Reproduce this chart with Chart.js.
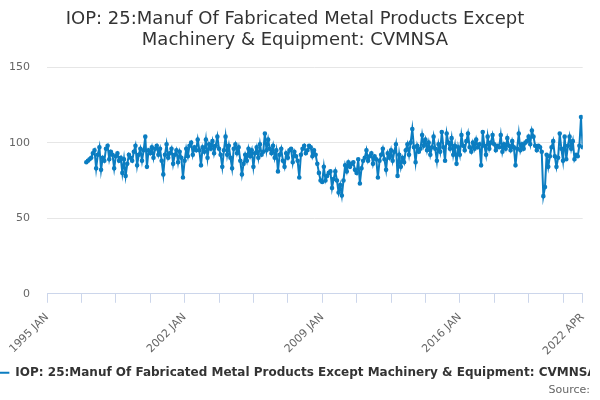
<!DOCTYPE html>
<html>
<head>
<meta charset="utf-8">
<script src="https://cdn.jsdelivr.net/npm/chart.js@4/dist/chart.umd.min.js"></script>
<style>
  body { margin: 0; background: #fff; }
  #wrap { width: 600px; height: 400px; position: relative; }
</style>
</head>
<body>
<div id="wrap"><canvas id="iopChart"></canvas></div>
<script>
// monthly index values, one array per year (1997 JAN .. 2022 APR)
const y1997 = [87, 88, 89, 90, 93, 95, 83, 92, 97, 82, 90, 88];
const y1998 = [96, 98, 89, 94, 92, 83, 91, 93, 88, 90, 80, 89];
const y1999 = [78, 86, 92, 90, 88, 94, 98, 85, 92, 96, 88, 95];
const y2000 = [104, 84, 95, 93, 97, 90, 96, 98, 92, 96, 88, 79];
const y2001 = [92, 99, 90, 93, 96, 86, 92, 95, 87, 94, 90, 77];
const y2002 = [88, 96, 91, 98, 100, 92, 97, 95, 102, 95, 85, 97];
const y2003 = [94, 102, 90, 99, 96, 101, 93, 98, 104, 96, 92, 84];
const y2004 = [95, 104, 92, 98, 90, 83, 96, 99, 93, 97, 88, 79];
const y2005 = [86, 92, 88, 96, 91, 95, 84, 93, 97, 90, 99, 92];
const y2006 = [94, 106, 95, 102, 96, 93, 98, 90, 95, 81, 92, 96];
const y2007 = [88, 84, 93, 90, 95, 96, 87, 94, 91, 88, 77, 92];
const y2008 = [96, 98, 93, 95, 98, 97, 91, 95, 92, 86, 80, 75];
const y2009 = [74, 84, 75, 78, 80, 81, 70, 76, 81, 75, 67, 72];
const y2010 = [65, 75, 85, 81, 87, 84, 86, 87, 82, 80, 89, 73];
const y2011 = [83, 88, 90, 95, 88, 91, 93, 86, 91, 89, 77, 88];
const y2012 = [92, 96, 89, 82, 93, 90, 95, 88, 94, 99, 78, 92];
const y2013 = [84, 90, 87, 95, 99, 92, 100, 109, 97, 87, 98, 94];
const y2014 = [96, 105, 98, 102, 95, 100, 92, 97, 104, 96, 88, 99];
const y2015 = [94, 107, 97, 88, 106, 100, 96, 103, 92, 98, 86, 97];
const y2016 = [92, 105, 98, 95, 101, 106, 97, 94, 100, 96, 102, 97];
const y2017 = [99, 85, 107, 98, 92, 104, 96, 100, 105, 99, 95, 98];
const y2018 = [97, 105, 94, 99, 96, 103, 98, 95, 101, 97, 85, 96];
const y2019 = [106, 95, 99, 96, 100, 101, 104, 99, 108, 104, 98, 95];
const y2020 = [98, 97, 94, 64.6, 70.6, 92, 84, 91, 97, 101, 91, 84];
const y2021 = [90, 106, 96, 88, 104, 89, 98, 104, 96, 101, 89, 92];
const y2022 = [91, 98, 117, 97];

// x axis: months counted from 1995 JAN
const axisStart = 1995;
const firstYear = 1997;
const tickMonths = [0, 84, 168, 252, 327];
const tickLabels = ['1995 JAN', '2002 JAN', '2009 JAN', '2016 JAN', '2022 APR'];

const seriesName = 'IOP: 25:Manuf Of Fabricated Metal Products Except Machinery & Equipment: CVMNSA';
const titleLines = ['IOP: 25:Manuf Of Fabricated Metal Products Except', 'Machinery & Equipment: CVMNSA'];

const years = [y1997, y1998, y1999, y2000, y2001, y2002, y2003, y2004, y2005, y2006, y2007, y2008, y2009,
  y2010, y2011, y2012, y2013, y2014, y2015, y2016, y2017, y2018, y2019, y2020, y2021, y2022];

const points = [];
years.forEach((vals, i) => {
  vals.forEach((v, j) => {
    points.push({ x: (firstYear - axisStart + i) * 12 + j, y: v });
  });
});

// minor ticks every 21 months, plus the last month
const xTicks = [];
for (let m = 0; m <= 315; m += 21) xTicks.push(m);
xTicks.push(327);

const font = "'DejaVu Sans', sans-serif";

new Chart(document.getElementById('iopChart'), {
  type: 'line',
  data: {
    datasets: [{
      label: seriesName,
      data: points,
      borderColor: '#0b7dc1',
      backgroundColor: '#0b7dc1',
      borderWidth: 2,
      pointRadius: 1.3,
      pointHoverRadius: 3,
      tension: 0
    }]
  },
  options: {
    responsive: true,
    maintainAspectRatio: false,
    animation: false,
    layout: { padding: { left: 0, right: 10, top: 0, bottom: 0 } },
    plugins: {
      title: {
        display: true,
        text: titleLines,
        color: '#333',
        font: { family: font, size: 18, weight: 'normal', lineHeight: 1.17 },
        padding: { top: 9, bottom: 16 }
      },
      subtitle: {
        display: true,
        position: 'bottom',
        align: 'end',
        text: 'Source:',
        color: '#666',
        font: { family: font, size: 11 },
        padding: { top: -5, bottom: 3 }
      },
      legend: {
        position: 'bottom',
        labels: {
          usePointStyle: true,
          pointStyle: 'line',
          pointStyleWidth: 16,
          color: '#333',
          font: { family: font, size: 12, weight: 'bold' },
          padding: 1
        }
      },
      tooltip: { enabled: false }
    },
    scales: {
      x: {
        type: 'linear',
        min: 0,
        max: 327,
        afterBuildTicks: s => { s.ticks = xTicks.map(v => ({ value: v })); },
        ticks: {
          autoSkip: false,
          maxRotation: 45,
          minRotation: 45,
          color: '#666',
          font: { family: font, size: 11 },
          padding: 8,
          callback: v => {
            const k = tickMonths.indexOf(v);
            return k >= 0 ? tickLabels[k] : '';
          }
        },
        grid: { drawOnChartArea: false, color: '#ccd6eb', tickLength: 9 },
        border: { color: '#ccd6eb' }
      },
      y: {
        min: 0,
        max: 150,
        afterFit: s => { s.width = 47; },
        ticks: { stepSize: 50, color: '#666', font: { family: font, size: 11 }, padding: 17 },
        grid: { color: '#e6e6e6', drawTicks: false },
        border: { display: false }
      },
      // blank strip keeping the plot clear of the right edge
      edge: {
        type: 'linear',
        position: 'right',
        afterFit: s => { s.width = 7; },
        ticks: { display: false },
        grid: { display: false, drawTicks: false },
        border: { display: false }
      }
    }
  }
});
</script>
</body>
</html>
